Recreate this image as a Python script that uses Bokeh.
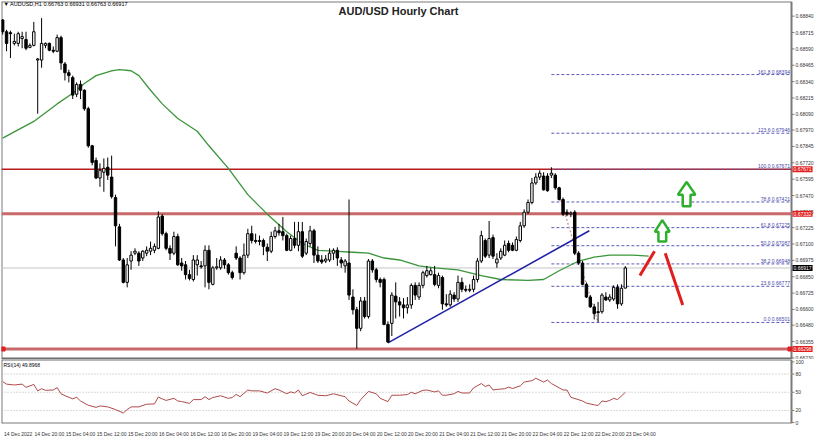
from bokeh.plotting import figure
from bokeh.layouts import column
from bokeh.models import Range1d, FixedTicker, NumeralTickFormatter, Label
from bokeh.embed import file_html
from bokeh.resources import INLINE
from bokeh.core.properties import value

# ---------------- data ----------------
header_text = "\u25bc AUDUSD,H1  0.66763 0.66931 0.66763 0.66917"
chart_title = "AUD/USD Hourly Chart"
rsi_title = "RSI(14) 49.8968"

bar_open = [0.68811, 0.68721, 0.68714, 0.68632, 0.68632, 0.68669, 0.68662, 0.68602, 0.68617, 0.68505,
            0.68505, 0.68617, 0.68632, 0.68580, 0.68572, 0.68676, 0.68475, 0.68408, 0.68371, 0.68244,
            0.68319, 0.68274, 0.68133, 0.67850, 0.67738, 0.67604, 0.67648, 0.67686, 0.67611, 0.67455,
            0.67231, 0.66978, 0.66807, 0.66970, 0.67030, 0.67030, 0.66993, 0.67030, 0.67045, 0.67052,
            0.67067, 0.67313, 0.67179, 0.67067, 0.67030, 0.67157, 0.66955, 0.66941, 0.66866, 0.66829,
            0.66941, 0.66933, 0.66933, 0.67052, 0.66792, 0.66918, 0.66918, 0.66978, 0.66941, 0.66881,
            0.67030, 0.66993, 0.66881, 0.67015, 0.67179, 0.67127, 0.67127, 0.67127, 0.67075, 0.67045,
            0.67157, 0.67201, 0.67194, 0.67164, 0.67052, 0.67142, 0.67090, 0.67194, 0.67030, 0.67104,
            0.67201, 0.67015, 0.66978, 0.66970, 0.66978, 0.67030, 0.67052, 0.66978, 0.66933, 0.66955,
            0.66695, 0.66598, 0.66456, 0.66665, 0.66546, 0.66970, 0.66903, 0.66829, 0.66829, 0.66486,
            0.66494, 0.66702, 0.66658, 0.66635, 0.66613, 0.66635, 0.66784, 0.66695, 0.66784, 0.66859,
            0.66866, 0.66866, 0.66784, 0.66844, 0.66643, 0.66635, 0.66710, 0.66680, 0.66807, 0.66754,
            0.66747, 0.66754, 0.66829, 0.66970, 0.67127, 0.67015, 0.67149, 0.66955, 0.66993, 0.67015,
            0.67104, 0.67090, 0.67052, 0.67127, 0.67239, 0.67343, 0.67417, 0.67566, 0.67611, 0.67619,
            0.67619, 0.67626, 0.67626, 0.67529, 0.67440, 0.67343, 0.67328, 0.67343, 0.67030, 0.66955,
            0.66792, 0.66695, 0.66620, 0.66583, 0.66583, 0.66695, 0.66673, 0.66680, 0.66769, 0.66643,
            0.66763]
bar_high = [0.68818, 0.68736, 0.68729, 0.68706, 0.68721, 0.68721, 0.68721, 0.68632, 0.68796, 0.68520,
            0.68825, 0.68639, 0.68639, 0.68609, 0.68699, 0.68691, 0.68490, 0.68431, 0.68386, 0.68334,
            0.68349, 0.68282, 0.68148, 0.67857, 0.67760, 0.67716, 0.67753, 0.67760, 0.67775, 0.67477,
            0.67254, 0.66993, 0.66993, 0.67045, 0.67067, 0.67045, 0.67052, 0.67082, 0.67119, 0.67104,
            0.67350, 0.67328, 0.67194, 0.67090, 0.67194, 0.67179, 0.66993, 0.66970, 0.66903, 0.67015,
            0.67015, 0.66970, 0.67090, 0.67090, 0.66933, 0.66993, 0.67007, 0.66993, 0.66955, 0.66896,
            0.67082, 0.67007, 0.67104, 0.67216, 0.67239, 0.67179, 0.67164, 0.67142, 0.67104, 0.67194,
            0.67231, 0.67254, 0.67306, 0.67179, 0.67164, 0.67269, 0.67269, 0.67269, 0.67142, 0.67239,
            0.67216, 0.67082, 0.67015, 0.67015, 0.67067, 0.67067, 0.67075, 0.67000, 0.66985, 0.67440,
            0.66754, 0.66620, 0.66695, 0.66695, 0.66985, 0.66985, 0.66918, 0.66844, 0.66844, 0.66509,
            0.66732, 0.66807, 0.66695, 0.66687, 0.66695, 0.66799, 0.66807, 0.66807, 0.66896, 0.66933,
            0.66918, 0.66933, 0.66881, 0.66859, 0.66717, 0.66747, 0.66732, 0.66859, 0.66844, 0.66784,
            0.66792, 0.66859, 0.66993, 0.67201, 0.67142, 0.67276, 0.67172, 0.67030, 0.67067, 0.67127,
            0.67127, 0.67112, 0.67157, 0.67269, 0.67365, 0.67440, 0.67604, 0.67641, 0.67663, 0.67648,
            0.67641, 0.67686, 0.67641, 0.67537, 0.67455, 0.67365, 0.67350, 0.67358, 0.67045, 0.66970,
            0.66807, 0.66710, 0.66643, 0.66658, 0.66725, 0.66732, 0.66717, 0.66784, 0.66792, 0.66792,
            0.66931]
bar_low = [0.68699, 0.68572, 0.68520, 0.68617, 0.68609, 0.68595, 0.68580, 0.68595, 0.68609, 0.68095,
           0.68446, 0.68595, 0.68572, 0.68557, 0.68565, 0.68431, 0.68349, 0.68334, 0.68207, 0.68222,
           0.68207, 0.68118, 0.67835, 0.67701, 0.67596, 0.67537, 0.67499, 0.67589, 0.67447, 0.67082,
           0.66970, 0.66799, 0.66769, 0.66903, 0.67015, 0.66933, 0.66970, 0.67007, 0.67015, 0.67030,
           0.67060, 0.67164, 0.67052, 0.66978, 0.67015, 0.66933, 0.66896, 0.66829, 0.66822, 0.66814,
           0.66859, 0.66911, 0.66769, 0.66754, 0.66784, 0.66903, 0.66903, 0.66911, 0.66866, 0.66829,
           0.66978, 0.66829, 0.66866, 0.66993, 0.67104, 0.67104, 0.67090, 0.67015, 0.66970, 0.67030,
           0.67142, 0.67164, 0.67127, 0.67045, 0.67045, 0.67067, 0.67045, 0.66993, 0.67015, 0.67082,
           0.66955, 0.66955, 0.66948, 0.66955, 0.66963, 0.66978, 0.66933, 0.66918, 0.66881, 0.66673,
           0.66561, 0.66300, 0.66434, 0.66531, 0.66531, 0.66881, 0.66807, 0.66769, 0.66479, 0.66345,
           0.66397, 0.66531, 0.66546, 0.66531, 0.66568, 0.66605, 0.66673, 0.66673, 0.66762, 0.66844,
           0.66859, 0.66777, 0.66762, 0.66598, 0.66620, 0.66620, 0.66658, 0.66658, 0.66732, 0.66732,
           0.66732, 0.66732, 0.66807, 0.66955, 0.66993, 0.66993, 0.66985, 0.66918, 0.66978, 0.67007,
           0.67037, 0.67045, 0.67045, 0.67112, 0.67224, 0.67328, 0.67403, 0.67552, 0.67589, 0.67507,
           0.67499, 0.67604, 0.67514, 0.67432, 0.67313, 0.67313, 0.67306, 0.67015, 0.66941, 0.66785,
           0.66687, 0.66613, 0.66524, 0.66501, 0.66568, 0.66665, 0.66658, 0.66665, 0.66605, 0.66628,
           0.66763]
bar_close = [0.68721, 0.68632, 0.68706, 0.68647, 0.68706, 0.68684, 0.68595, 0.68617, 0.68721, 0.68513,
             0.68632, 0.68632, 0.68580, 0.68572, 0.68676, 0.68483, 0.68408, 0.68386, 0.68237, 0.68319,
             0.68274, 0.68133, 0.67850, 0.67723, 0.67604, 0.67663, 0.67678, 0.67626, 0.67462, 0.67239,
             0.66978, 0.66807, 0.66941, 0.67015, 0.67045, 0.66970, 0.67045, 0.67052, 0.67067, 0.67082,
             0.67306, 0.67179, 0.67067, 0.67030, 0.67157, 0.66941, 0.66933, 0.66866, 0.66837, 0.66978,
             0.66978, 0.66926, 0.67052, 0.66807, 0.66918, 0.66926, 0.66978, 0.66941, 0.66881, 0.66844,
             0.66993, 0.66881, 0.67015, 0.67179, 0.67127, 0.67120, 0.67119, 0.67082, 0.67045, 0.67157,
             0.67201, 0.67186, 0.67164, 0.67052, 0.67142, 0.67090, 0.67194, 0.67007, 0.67119, 0.67201,
             0.67015, 0.66970, 0.66963, 0.66985, 0.67030, 0.67052, 0.66993, 0.66955, 0.66970, 0.66710,
             0.66598, 0.66456, 0.66665, 0.66546, 0.66970, 0.66903, 0.66829, 0.66807, 0.66486, 0.66352,
             0.66710, 0.66658, 0.66635, 0.66613, 0.66635, 0.66784, 0.66710, 0.66784, 0.66881, 0.66896,
             0.66896, 0.66792, 0.66859, 0.66643, 0.66635, 0.66717, 0.66680, 0.66807, 0.66754, 0.66747,
             0.66754, 0.66829, 0.66970, 0.67164, 0.67007, 0.67142, 0.67007, 0.66985, 0.67045, 0.67090,
             0.67052, 0.67052, 0.67134, 0.67239, 0.67343, 0.67417, 0.67566, 0.67611, 0.67641, 0.67514,
             0.67507, 0.67641, 0.67529, 0.67440, 0.67328, 0.67328, 0.67336, 0.67030, 0.66955, 0.66792,
             0.66695, 0.66620, 0.66568, 0.66576, 0.66710, 0.66673, 0.66695, 0.66769, 0.66643, 0.66762,
             0.66917]

# moving average (green), read at bar positions
ma_bars = [0, 8, 14, 18, 21, 24, 28, 30, 33, 35, 38, 41, 45, 50, 53, 58, 63, 68, 73, 77,
           81, 85, 90, 94, 98, 102, 107, 111, 117, 123, 128, 135, 139, 143, 148, 152, 156, 162, 166]
ma_values = [0.67909, 0.68036, 0.68170, 0.68252, 0.68326, 0.68386, 0.68423, 0.68431, 0.68423, 0.68386,
             0.68274, 0.68170, 0.68058, 0.67961, 0.67850, 0.67678, 0.67477, 0.67328, 0.67194, 0.67104,
             0.67052, 0.67045, 0.67037, 0.67030, 0.66993, 0.66978, 0.66933, 0.66918, 0.66903, 0.66859,
             0.66829, 0.66822, 0.66829, 0.66896, 0.66970, 0.67000, 0.67015, 0.67015, 0.67008]

# RSI(14)
rsi_bars = [0, 1, 3, 5, 6, 8, 9, 10, 11, 13, 14, 15, 16, 18, 19, 20, 22, 24, 25, 27,
            29, 31, 32, 33, 35, 37, 39, 40, 41, 42, 44, 45, 46, 48, 49, 51, 52, 53, 54, 56,
            58, 59, 60, 61, 63, 64, 66, 68, 70, 71, 73, 74, 75, 76, 77, 79, 81, 83, 85, 87,
            88, 89, 91, 92, 94, 96, 97, 99, 100, 102, 104, 105, 106, 108, 109, 111, 112, 113, 114, 116,
            117, 118, 120, 121, 123, 124, 125, 126, 127, 129, 130, 131, 133, 134, 136, 137, 139, 140, 141, 144,
            145, 146, 149, 150, 152, 153, 154, 155, 156, 157, 158, 160]
rsi_values = [67.7, 63.4, 62.0, 63.4, 58.1, 62.9, 52.3, 55.9, 53.2, 53.7, 57.6, 47.5, 44.4, 39.1, 41.8, 35.6, 28.6, 25.1, 27.4, 25.9,
              21.5, 15.8, 21.5, 25.9, 25.9, 30.3, 30.7, 42.2, 39.1, 36.5, 40.0, 35.6, 34.7, 31.7, 37.9, 37.9, 42.7, 37.9, 41.3, 44.2,
              40.0, 41.3, 46.5, 42.7, 53.7, 52.3, 52.3, 48.8, 55.9, 53.7, 47.5, 50.6, 48.8, 53.7, 44.2, 49.7, 45.1, 44.2, 47.5, 44.2,
              42.7, 35.6, 28.2, 37.9, 51.4, 47.5, 40.0, 34.6, 45.1, 45.1, 46.2, 50.0, 47.5, 53.2, 53.7, 50.6, 52.3, 45.1, 45.1, 47.5,
              51.4, 48.8, 48.8, 57.2, 64.4, 59.4, 62.0, 53.7, 54.7, 55.8, 58.5, 56.2, 60.5, 66.8, 69.1, 73.0, 66.8, 70.2, 64.4, 53.7,
              53.7, 41.8, 35.6, 32.1, 29.3, 28.2, 35.6, 34.6, 36.5, 40.0, 37.9, 49.8968]
rsi_levels = [20, 50, 80]
rsi_ticks = [0, 20, 50, 80, 100]

price_ticks = [0.66230, 0.66355, 0.66480, 0.66600, 0.66725, 0.66850, 0.66975, 0.67100, 0.67225, 0.67345,
               0.67470, 0.67595, 0.67720, 0.67845, 0.67970, 0.68090, 0.68215, 0.68340, 0.68465, 0.68590,
               0.68715, 0.68840]

time_label_bars = [0, 8, 16, 24, 32, 40, 48, 56, 64, 72, 80, 88, 96, 104, 112, 120, 128, 136, 144, 152, 160]
time_labels = ["14 Dec 2022", "14 Dec 20:00", "15 Dec 04:00", "15 Dec 12:00", "15 Dec 20:00",
               "16 Dec 04:00", "16 Dec 12:00", "16 Dec 20:00", "19 Dec 04:00", "19 Dec 12:00",
               "19 Dec 20:00", "20 Dec 04:00", "20 Dec 12:00", "20 Dec 20:00", "21 Dec 04:00",
               "21 Dec 12:00", "21 Dec 20:00", "22 Dec 04:00", "22 Dec 12:00", "22 Dec 20:00",
               "23 Dec 04:00"]

# horizontal levels
resistance_top = 0.67671
resistance_mid = 0.67332
support_low = 0.66298
bid_price = 0.66917

# Fibonacci retracement
fib_levels = ["0.0", "23.6", "38.2", "50.0", "61.8", "78.6", "100.0", "123.6", "161.8"]
fib_prices = [0.66501, 0.66777, 0.66948, 0.67087, 0.67225, 0.67421, 0.67671, 0.67946, 0.68394]
fib_high_bar = 141
fib_low_bar = 153

# trend line (blue)
trend_bars = [99, 150.75]
trend_prices = [0.66345, 0.67201]

# annotation arrows (green) and strokes (red)
arrow_bars = [169.5, 175.75]
arrow_tip = [0.67283, 0.67574]
arrow_neck = [0.67194, 0.67477]
arrow_base = [0.67119, 0.67388]
arrow_head_half = [1.9, 2.25]
arrow_shaft_half = [1.0, 1.0]
stroke1_bars = [163.75, 167.5]
stroke1_prices = [0.66859, 0.67045]
stroke2_bars = [170.25, 174.75]
stroke2_prices = [0.67030, 0.66635]

# ---------------- layout constants ----------------
FONT = "Liberation Sans"
GRAY = "#7a7a7a"
CHART_W = 790          # pixels of the price chart area
FRAME_W = 816          # chart area + price-scale strip
x_start, chart_end = -0.3, 202.7
x_end = x_start + (chart_end - x_start) * FRAME_W / CHART_W
xr = Range1d(x_start, x_end)
tick_len = 0.75
n = len(bar_open)
idx = list(range(n))


def style_scale_axis(ax, ticks):
    ax.ticker = FixedTicker(ticks=ticks)
    ax.major_label_text_font_size = "5px"
    ax.major_label_text_font = FONT
    ax.major_label_text_color = "#333333"
    ax.major_tick_out = 0
    ax.major_tick_in = 0
    ax.minor_tick_out = 0
    ax.minor_tick_in = 0
    ax.axis_line_color = None
    ax.major_label_standoff = -(FRAME_W - CHART_W) + 4


# ---------------- main price panel ----------------
y0, y1 = 0.66218, 0.68952
p = figure(frame_width=FRAME_W, frame_height=358, x_range=xr, y_range=Range1d(y0, y1),
           output_backend="svg", toolbar_location=None, y_axis_location="right",
           x_axis_location=None, min_border_left=1, min_border_right=2,
           min_border_top=1, min_border_bottom=0, background_fill_color="white",
           border_fill_color="white")
p.grid.visible = False
p.outline_line_color = None
style_scale_axis(p.yaxis[0], price_ticks)
p.yaxis[0].formatter = NumeralTickFormatter(format="0.00000")

# chart borders and price-scale tick marks
p.segment(x0=[x_start, x_start, chart_end], y0=[y0, y1, y0], x1=[x_start, chart_end, chart_end],
          y1=[y1, y1, y1], line_color=GRAY, line_width=2)
p.segment(x0=[x_start], y0=[y0], x1=[chart_end], y1=[y0], line_color="#6e6e6e", line_width=4)
p.segment(x0=[chart_end] * len(price_ticks), y0=price_ticks,
          x1=[chart_end + tick_len] * len(price_ticks), y1=price_ticks, line_color=GRAY, line_width=1)

# bid line and horizontal levels
p.segment(x0=[x_start], y0=[bid_price], x1=[chart_end], y1=[bid_price], line_color="#c4c4c4", line_width=1)
p.segment(x0=[x_start], y0=[resistance_top], x1=[chart_end], y1=[resistance_top],
          line_color="#b81c1c", line_width=1.5)
p.segment(x0=[x_start, x_start], y0=[resistance_mid, support_low], x1=[chart_end, chart_end],
          y1=[resistance_mid, support_low], line_color="#c86a6a", line_width=3)
p.scatter(x=[x_start + 0.4, chart_end - 0.4], y=[support_low, support_low], marker="square",
          size=4, color="#e02020")

# fibonacci
nf = len(fib_prices)
p.segment(x0=[fib_high_bar] * nf, y0=fib_prices, x1=[chart_end] * nf, y1=fib_prices,
          line_color="#5c5cb8", line_width=1, line_dash="3 2")
p.text(x=[chart_end - 0.4] * nf, y=fib_prices,
       text=[f"{lv} {pr:.5f}" for lv, pr in zip(fib_levels, fib_prices)],
       text_align="right", text_baseline="bottom", text_font_size=value("5px"),
       text_font=value(FONT), text_color="#4848aa")
p.line(x=[fib_high_bar, fib_low_bar], y=[fib_prices[6], fib_prices[0]],
       line_color="#d9a0a0", line_width=1.5, line_dash="2 2")

# moving average
p.line(x=ma_bars, y=ma_values, line_color="#3a953a", line_width=1.3)

# trend line
p.line(x=trend_bars, y=trend_prices, line_color="#2222a8", line_width=1.6)

# candles
p.segment(x0=idx, y0=bar_low, x1=idx, y1=bar_high, line_color="black", line_width=1)
inc = [i for i in idx if bar_close[i] >= bar_open[i]]
dec = [i for i in idx if bar_close[i] < bar_open[i]]
p.vbar(x=inc, width=0.62, top=[bar_close[i] for i in inc], bottom=[bar_open[i] for i in inc],
       fill_color="white", line_color="black", line_width=1)
p.vbar(x=dec, width=0.62, top=[bar_open[i] for i in dec], bottom=[bar_close[i] for i in dec],
       fill_color="black", line_color="black", line_width=1)

# arrows
for c, t, nk, b, hh, sh in zip(arrow_bars, arrow_tip, arrow_neck, arrow_base, arrow_head_half, arrow_shaft_half):
    p.patch(x=[c, c + hh, c + sh, c + sh, c - sh, c - sh, c - hh],
            y=[t, nk, nk, b, b, nk, nk],
            fill_color="white", line_color="#2eb02e", line_width=2.5)
p.line(x=stroke1_bars, y=stroke1_prices, line_color="#e01e1e", line_width=3)
p.line(x=stroke2_bars, y=stroke2_prices, line_color="#e01e1e", line_width=3)

# texts
p.add_layout(Label(x=x_start + 0.5, y=0.68930, text=header_text, text_font=FONT,
                   text_font_size="5.5px", text_color="black", text_baseline="middle"))
p.add_layout(Label(x=(x_start + chart_end) / 2 + 0.5, y=0.68878, text=chart_title, text_font=FONT,
                   text_font_size="11px", text_font_style="bold", text_color="#222222",
                   text_align="center", text_baseline="middle"))

# price boxes on the scale
for pr, col in [(resistance_top, "#e21d1d"), (resistance_mid, "#e21d1d"),
                (support_low, "#e21d1d"), (bid_price, "#000000")]:
    p.add_layout(Label(x=chart_end, y=pr, x_offset=1, text=f"{pr:.5f}", text_font=FONT,
                       text_font_size="5px", text_color="white", text_baseline="middle",
                       background_fill_color=col, padding=1))

# ---------------- RSI panel ----------------
r0, r1 = -1.5, 104
r = figure(frame_width=FRAME_W, frame_height=64, x_range=xr, y_range=Range1d(r0, r1),
           output_backend="svg", toolbar_location=None, y_axis_location="right",
           min_border_left=1, min_border_right=2, min_border_top=0, min_border_bottom=10,
           background_fill_color="white", border_fill_color="white")
r.grid.visible = False
r.outline_line_color = None
style_scale_axis(r.yaxis[0], rsi_ticks)

r.segment(x0=[x_start, x_start, chart_end], y0=[r0, r0, r0], x1=[x_start, chart_end, chart_end],
          y1=[r1, r0, r1], line_color=GRAY, line_width=2)
r.segment(x0=[x_start], y0=[r1], x1=[chart_end], y1=[r1], line_color="#6e6e6e", line_width=2)
r.segment(x0=[chart_end] * len(rsi_ticks), y0=rsi_ticks, x1=[chart_end + tick_len] * len(rsi_ticks),
          y1=rsi_ticks, line_color=GRAY, line_width=1)
r.segment(x0=[x_start] * len(rsi_levels), y0=rsi_levels, x1=[chart_end] * len(rsi_levels),
          y1=rsi_levels, line_color="#b4b4b4", line_width=1, line_dash="1 2")
r.line(x=rsi_bars, y=rsi_values, line_color="#b04a4a", line_width=1)
r.add_layout(Label(x=x_start + 0.5, y=95, text=rsi_title, text_font=FONT,
                   text_font_size="5px", text_color="black", text_baseline="middle"))

rx = r.xaxis[0]
label_shift = 4
rx.ticker = FixedTicker(ticks=[b + label_shift for b in time_label_bars])
rx.major_label_overrides = {b + label_shift: t for b, t in zip(time_label_bars, time_labels)}
rx.major_label_text_font_size = "5px"
rx.major_label_text_font = FONT
rx.major_label_text_color = "#333333"
rx.major_tick_line_color = None
rx.minor_tick_line_color = None
rx.axis_line_color = None
rx.major_label_standoff = 1

layout = column(p, r, spacing=0)
open("out.html", "w").write(file_html(layout, INLINE))
